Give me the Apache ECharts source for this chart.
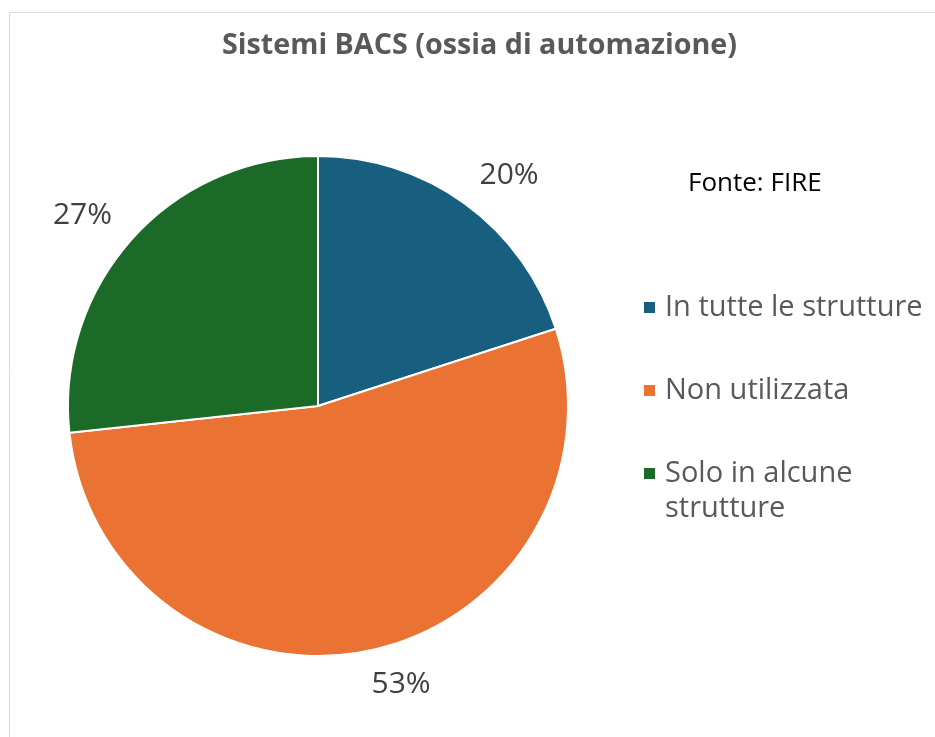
<!DOCTYPE html>
<html>
<head>
<meta charset="utf-8">
<script src="https://cdn.jsdelivr.net/npm/echarts@6/dist/echarts.min.js"></script>
<style>
  html, body { margin: 0; padding: 0; background: #ffffff; }
  #chart { width: 935px; height: 737px; }
</style>
</head>
<body>
<div id="chart"></div>
<script>
const titleText = 'Sistemi BACS (ossia di automazione)';
const sourceText = 'Fonte: FIRE';
const categories = ['In tutte le strutture', 'Non utilizzata', 'Solo in alcune strutture'];
const values = [20, 53.3, 26.7];
const colors = ['#175E7F', '#EA7333', '#1B6A27'];

const FONT = '"Open Sans", "Noto Sans", sans-serif';

const chart = echarts.init(document.getElementById('chart'), null, { renderer: 'canvas' });

const legendTops = [290, 373, 421];
const legends = categories.map((name, i) => ({
  data: [name],
  orient: 'vertical',
  left: 642,
  top: legendTops[i],
  padding: 0,
  icon: 'rect',
  itemWidth: 13,
  itemHeight: 13,
  selectedMode: false,
  // keep the first wrapped line level with the marker (Excel style)
  formatter: i === 2 ? (n => '\n' + n) : (n => n),
  textStyle: Object.assign({
    fontFamily: FONT,
    fontSize: 29,
    color: '#595959',
    lineHeight: 35,
    padding: [0, 0, 0, 4]
  }, i === 2 ? { width: 265, overflow: 'break' } : {})
}));

chart.setOption({
  animation: false,
  backgroundColor: '#ffffff',
  color: colors,
  title: [
    {
      text: titleText,
      left: 222,
      top: 31,
      padding: 0,
      textStyle: { fontFamily: FONT, fontSize: 28.7, fontWeight: 'bold', color: '#595959' }
    },
    {
      text: sourceText,
      left: 688,
      top: 171,
      padding: 0,
      textStyle: { fontFamily: FONT, fontSize: 26, fontWeight: 'normal', color: '#000000' }
    }
  ],
  graphic: [
    {
      type: 'rect',
      shape: { x: 9.5, y: 12.5, width: 1200, height: 1200 },
      style: { fill: null, stroke: '#D9D9D9', lineWidth: 1 },
      silent: true,
      z: -1
    }
  ],
  legend: legends,
  series: [
    {
      type: 'pie',
      center: [318, 406],
      radius: 250,
      startAngle: 90,
      clockwise: true,
      avoidLabelOverlap: false,
      emphasis: { disabled: true },
      itemStyle: { borderColor: '#ffffff', borderWidth: 2 },
      label: {
        show: true,
        position: 'outside',
        formatter: p => Math.round(p.percent) + '%',
        fontFamily: FONT,
        fontSize: 30,
        color: '#404040',
        distanceToLabelLine: -6
      },
      labelLine: { show: false, length: 35, length2: 0 },
      data: categories.map((name, i) => ({ name: name, value: values[i] }))
    }
  ]
});
</script>
</body>
</html>
